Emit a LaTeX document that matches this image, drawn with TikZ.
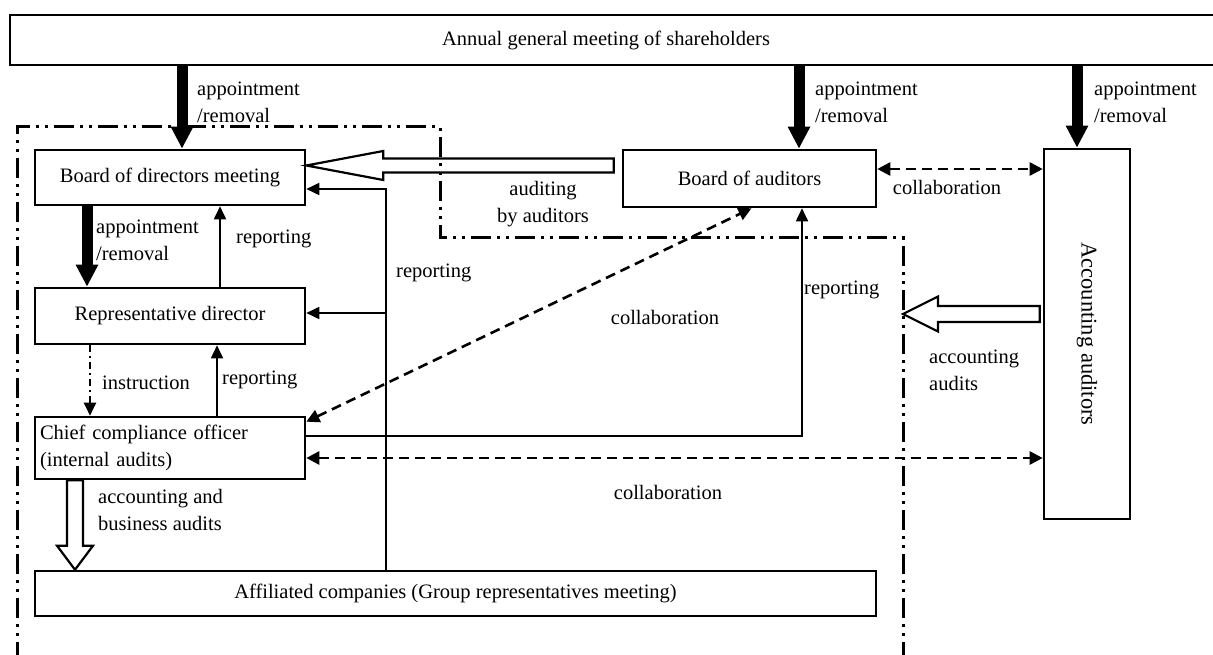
\documentclass[tikz,border=0pt]{standalone}
\usepackage{fontspec}
\setmainfont{Liberation Serif}
\usetikzlibrary{arrows.meta,calc}
\begin{document}
\begin{tikzpicture}[x=1pt,y=-1pt,
  every node/.style={font=\fontsize{20.5}{27}\selectfont, inner sep=0pt},
  box/.style={draw, line width=2.6pt, align=center},
  lbl/.style={anchor=west, align=left},
  bigarrow/.style={line width=11pt, -{Triangle[width=21pt,length=22pt]}},
  thinarrow/.style={line width=1.8pt, -{Triangle[width=12pt,length=13pt]}},
  dasharrow/.style={line width=2.6pt, dash pattern=on 10pt off 6pt,
     {Triangle[width=13pt,length=13pt]}-{Triangle[width=13pt,length=13pt]}},
  instr/.style={line width=2pt, dash pattern=on 7pt off 4pt on 2pt off 4pt,
     -{Triangle[width=12pt,length=13pt]}},
  hollow/.style={draw, line width=2.2pt, fill=white, line join=miter},
  bnd/.style={line width=3pt, dash pattern=on 20pt off 6pt on 3pt off 6pt on 3pt off 6pt}
]
\useasboundingbox (0,0) rectangle (1213,655);

% boxes
\node[box, minimum width=1208pt, minimum height=50pt,
  label={[xshift=-8pt]center:Annual general meeting of shareholders}] (agm) at (614,40) {};
\node[box, minimum width=270pt, minimum height=55pt] (bod) at (170,177.5) {Board of directors meeting};
\node[box, minimum width=253pt, minimum height=57pt] (boa) at (749.5,178.5) {Board of auditors};
\node[box, minimum width=86pt, minimum height=370pt,
  label={[rotate=-90,font=\fontsize{22.5}{27}\selectfont]center:Accounting auditors}] (acc) at (1087,334) {};
\node[box, minimum width=270pt, minimum height=56pt] (rep) at (170,316) {Representative director};
\node[box, minimum width=270pt, minimum height=62pt, text width=260pt, align=left] (cco) at (170,448)
  {Chief compliance officer\\(internal audits)};
\node[box, minimum width=841pt, minimum height=45pt] (aff) at (455.5,593.5)
  {Affiliated companies (Group representatives meeting)};

% helper coordinates
\coordinate (rx) at (386,189);
\coordinate (bR) at (903,238);

% hollow arrows
\coordinate (h1s) at ([xshift=-8pt,yshift=13pt]boa.west);
\coordinate (h1t) at (h1s -| bod.east);
\draw[hollow] (h1t) -- ++(77,-14.5) -- ++(0,7.5) -- ([yshift=7pt]h1s) -- ([yshift=-7pt]h1s)
  -- ([xshift=77pt,yshift=-7pt]h1t) -- ++(0,7.5) -- cycle;

\coordinate (h2s) at ([xshift=-3pt,yshift=20pt]acc.west);
\coordinate (h2t) at (h2s -| bR);
\draw[hollow] (h2t) -- ++(35,-17.5) -- ++(0,9.5) -- ([yshift=8pt]h2s) -- ([yshift=-8pt]h2s)
  -- ([xshift=35pt,yshift=-8pt]h2t) -- ++(0,9.5) -- cycle;

\coordinate (h3s) at ([xshift=-95pt]cco.south);
\coordinate (h3t) at (h3s |- aff.north);
\draw[hollow] (h3t) -- ++(-18,-24) -- ++(10,0) -- ([xshift=-8pt]h3s) -- ([xshift=8pt]h3s)
  -- ([xshift=8pt,yshift=24pt]h3t) -- ++(10,0) -- cycle;

% boundary
\draw[bnd] (17,662) -- (17,127) -- (440,127) -- (440,238) -- (bR) -- (903,662);

% thick appointment arrows
\coordinate (a1) at ([xshift=12pt]bod.north);
\draw[bigarrow] (agm.south -| a1) -- (a1);
\coordinate (a2) at ([xshift=49.5pt]boa.north);
\draw[bigarrow] (agm.south -| a2) -- (a2);
\coordinate (a3) at ([xshift=-10pt]acc.north);
\draw[bigarrow] (agm.south -| a3) -- (a3);
\coordinate (a4) at ([xshift=-83pt]bod.south);
\draw[bigarrow] (a4) -- (a4 |- rep.north);

% reporting
\coordinate (r1) at ([xshift=50pt]rep.north);
\draw[thinarrow] (r1) -- (r1 |- bod.south);
\coordinate (r2) at ([xshift=47pt]cco.north);
\draw[thinarrow] (r2) -- (r2 |- rep.south);
\coordinate (r3) at ([yshift=12pt]cco.east);
\coordinate (r3e) at ([xshift=52.5pt]boa.south);
\draw[thinarrow] (r3) -| (r3e);
\coordinate (bodin) at ([yshift=-11.5pt]bod.east);
\draw[thinarrow] (aff.north -| rx) |- (bodin);
\coordinate (repin) at ([yshift=3pt]rep.east);
\draw[thinarrow] (rx |- repin) -- (repin);

% instruction
\coordinate (i1) at ([xshift=-80pt]rep.south);
\draw[instr] (i1) -- (i1 |- cco.north);

% collaboration
\coordinate (d1) at ([yshift=-6pt]cco.north east);
\coordinate (d2) at ([xshift=2pt]boa.south);
\draw[dasharrow] (d1) -- (d2);
\coordinate (d3) at ([yshift=-10pt]cco.east);
\draw[dasharrow] (d3) -- (d3 -| acc.west);
\coordinate (d4) at ([yshift=9.5pt]boa.east);
\draw[dasharrow] (d4) -- (d4 -| acc.west);

% labels
\node[lbl] (l1) at (197,102) {appointment\\/removal};
\node[lbl] (l2) at (815,102) {appointment\\/removal};
\node[lbl] (l3) at (1094,102) {appointment\\/removal};
\node[lbl] (l4) at (96,240) {appointment\\/removal};
\node[lbl] (l5) at (236,239) {reporting};
\node[lbl] (l6) at (396,273) {reporting};
\node[align=center] (l7) at (543,204) {auditing\\by auditors};
\node (l8) at (947,187) {collaboration};
\node[lbl] (l9) at (804,290) {reporting};
\node (l10) at (665,317) {collaboration};
\node[lbl] (l11) at (929,370) {accounting\\audits};
\node[lbl] (l12) at (102,383) {instruction};
\node[lbl] (l13) at (222,380) {reporting};
\node[lbl] (l14) at (98,510) {accounting and\\business audits};
\node (l15) at (668,492) {collaboration};
\end{tikzpicture}
\end{document}
